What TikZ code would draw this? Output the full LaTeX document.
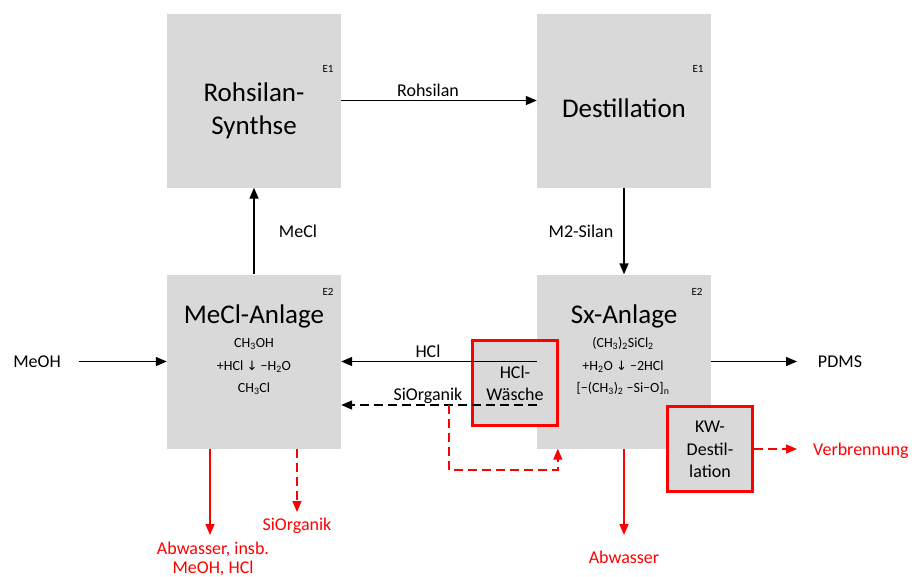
\documentclass[tikz,border=0pt]{standalone}
\usepackage{fontspec}
\setmainfont{Carlito}
\newfontfamily\symfont{DejaVu Sans}
\usetikzlibrary{arrows.meta}
\definecolor{boxgray}{HTML}{D9D9D9}
\definecolor{fred}{HTML}{FF0000}
\begin{document}
\begin{tikzpicture}[x=1pt,y=-1pt,
  box/.style={fill=boxgray,draw=none,minimum width=174pt,minimum height=174pt,inner sep=0pt},
  redbox/.style={fill=boxgray,draw=fred,line width=2.6pt,minimum width=85pt,minimum height=85pt,inner sep=0pt},
  title/.style={anchor=base,inner sep=0pt,font=\fontsize{27}{34}\selectfont,align=center},
  lbl/.style={anchor=base,inner sep=0pt,font=\fontsize{18}{22}\selectfont,align=center},
  rlbl/.style={lbl,text=fred},
  tag/.style={anchor=base,inner sep=0pt,font=\fontsize{11}{13}\selectfont},
  frm/.style={anchor=base,inner sep=0pt,font=\fontsize{14}{16}\selectfont},
  arr/.style={line width=1.4pt,-{Triangle[length=11pt,width=9pt]}},
  rarr/.style={arr,draw=fred},
  dsh/.style={dash pattern=on 9pt off 5pt}]
\useasboundingbox (0,0) rectangle (912,576);
% main boxes
\node[box] (roh) at (254,100.5) {};
\node[box] (dest) at (624,100.5) {};
\node[box] (mecl) at (254,361.5) {};
\node[box] (sx) at (624,361.5) {};
% texts in boxes
\node[title] (rohT1) at (254,101) {Rohsilan-};
\node[title] (rohT2) at (254,134) {Synthse};
\node[tag] (rohE) at (328,72) {E1};
\node[title] (destT) at (624,117) {Destillation};
\node[tag] (destE) at (698,72) {E1};
\node[title] (meclT) at (254,323) {MeCl-Anlage};
\node[tag] (meclE) at (328,295) {E2};
\node[frm] (mf1) at (254,347) {CH\textsubscript{3}OH};
\node[frm] (mf2) at (254,370) {+HCl {\symfont\fontsize{13}{15}\selectfont ↓} −H\textsubscript{2}O};
\node[frm] (mf3) at (254,392) {CH\textsubscript{3}Cl};
\node[title] (sxT) at (624,323) {Sx-Anlage};
\node[tag] (sxE) at (697,295) {E2};
\node[frm] (sf1) at (623,347) {(CH\textsubscript{3})\textsubscript{2}SiCl\textsubscript{2}};
\node[frm] (sf2) at (623,370) {+H\textsubscript{2}O {\symfont\fontsize{13}{15}\selectfont ↓} −2HCl};
\node[frm] (sf3) at (623,392) {[−(CH\textsubscript{3})\textsubscript{2} −Si−O]\textsubscript{n}};
% red boxes
\node[redbox] (hw) at (515,383) {};
\node[lbl] (hwT1) at (515,378) {HCl-};
\node[lbl] (hwT2) at (515,400) {Wäsche};
\node[redbox] (kw) at (710,449) {};
\node[lbl] (kwT1) at (710,432) {KW-};
\node[lbl] (kwT2) at (710,455) {Destil-};
\node[lbl] (kwT3) at (710,477) {lation};
% labels
\node[lbl] (lRoh) at (428,96) {Rohsilan};
\node[lbl] (lMeCl) at (298,237) {MeCl};
\node[lbl] (lM2) at (581,237) {M2-Silan};
\node[lbl] (lHCl) at (428,357) {HCl};
\node[lbl] (lSiO) at (428,400) {SiOrganik};
\node[lbl] (lMeOH) at (37,367) {MeOH};
\node[lbl] (lPDMS) at (840,367) {PDMS};
\node[rlbl,anchor=base west] (lVer) at (813,455) {Verbrennung};
\node[rlbl] (lAbw1a) at (213,554) {Abwasser, insb.};
\node[rlbl] (lAbw1b) at (213,573) {MeOH, HCl};
\node[rlbl] (lSiO2) at (297,530) {SiOrganik};
\node[rlbl] (lAbw2) at (624,563) {Abwasser};
% coordinates
\coordinate (meohS) at (79,361.5);
\coordinate (pdmsE) at (797,361.5);
\coordinate (verE) at (797,449);
\coordinate (aw1) at (210,535);
\coordinate (so2) at (297,512);
\coordinate (aw2) at (624,535);
\coordinate (b1) at (449,405);
\coordinate (b2) at (449,470);
% connectors
\draw[arr] (roh.east) -- (dest.west);
\draw[arr] (mecl.north) -- (roh.south);
\draw[arr] (dest.south) -- (sx.north);
\draw[arr] (sx.west) -- (mecl.east);
\draw[arr,dsh] ([yshift=-43.5pt]sx.west) -- ([yshift=-43.5pt]mecl.east);
\draw[arr] (meohS) -- (mecl.west);
\draw[arr] (sx.east) -- (pdmsE);
\draw[rarr,dsh] (kw.east) -- (verE);
\draw[rarr] (aw1 |- mecl.south) -- (aw1);
\draw[rarr,dsh] (so2 |- mecl.south) -- (so2);
\draw[rarr] (aw2 |- sx.south) -- (aw2);
\draw[rarr,dsh] (b1) -- (b2) -| ([xshift=21pt]sx.south west);
\end{tikzpicture}
\end{document}
